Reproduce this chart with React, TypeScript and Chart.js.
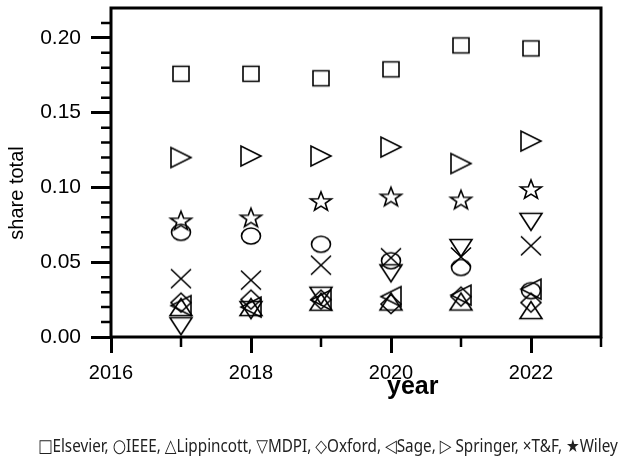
import React, { useEffect, useRef } from 'react';
import { Chart, registerables } from 'chart.js';

Chart.register(...registerables);

const years = [2017, 2018, 2019, 2020, 2021, 2022];
const elsevier = [0.176, 0.176, 0.173, 0.179, 0.195, 0.193];
const ieee = [0.070, 0.0675, 0.062, 0.051, 0.0465, 0.031];
const lippincott = [0.020, 0.020, 0.0236, 0.0237, 0.0237, 0.018];
const mdpi = [0.0072, 0.018, 0.0276, 0.0426, 0.0595, 0.077];
const oxford = [0.023, 0.025, 0.025, 0.022, 0.027, 0.023];
const sage = [0.021, 0.020, 0.0248, 0.027, 0.028, 0.032];
const springer = [0.120, 0.121, 0.121, 0.127, 0.116, 0.131];
const tandf = [0.039, 0.038, 0.048, 0.053, 0.0535, 0.061];
const wiley = [0.078, 0.080, 0.091, 0.094, 0.092, 0.099];

const xTicks = [2016, 2018, 2020, 2022];
const xMinorTicks = [2017, 2019, 2021, 2023];
const yTicks = [0, 0.05, 0.1, 0.15, 0.2];
const yMinorTicks = [0.01, 0.02, 0.03, 0.04, 0.06, 0.07, 0.08, 0.09, 0.11, 0.12, 0.13, 0.14, 0.16, 0.17, 0.18, 0.19, 0.21];

const legendText = '□Elsevier, ○IEEE, △Lippincott, ▽MDPI, ◇Oxford, ◁Sage, ▷ Springer, ×T&F, ★Wiley';

const FONT = '"Liberation Sans", Arial, sans-serif';
const LEGEND_WIDTH = 580;

function makeMarker(kind: string): HTMLCanvasElement {
  const W = 28, H = 28;
  const c = document.createElement('canvas');
  c.width = W; c.height = H;
  const ctx = c.getContext('2d')!;
  ctx.strokeStyle = '#000';
  ctx.lineWidth = 1.6;
  const cx = W / 2, cy = H / 2;
  ctx.beginPath();
  switch (kind) {
    case 'square':
      ctx.rect(cx - 8, cy - 7.5, 16, 15); break;
    case 'circle':
      ctx.ellipse(cx, cy, 9.5, 8, 0, 0, Math.PI * 2); break;
    case 'up':
      ctx.moveTo(cx, cy - 8.5); ctx.lineTo(cx + 11, cy + 8.5); ctx.lineTo(cx - 11, cy + 8.5); ctx.closePath(); break;
    case 'down':
      ctx.moveTo(cx - 11, cy - 8.5); ctx.lineTo(cx + 11, cy - 8.5); ctx.lineTo(cx, cy + 8.5); ctx.closePath(); break;
    case 'left':
      ctx.moveTo(cx - 10, cy); ctx.lineTo(cx + 10, cy - 10); ctx.lineTo(cx + 10, cy + 10); ctx.closePath(); break;
    case 'right':
      ctx.moveTo(cx + 10, cy); ctx.lineTo(cx - 10, cy - 10); ctx.lineTo(cx - 10, cy + 10); ctx.closePath(); break;
    case 'diamond':
      ctx.moveTo(cx, cy - 9.5); ctx.lineTo(cx + 10, cy); ctx.lineTo(cx, cy + 9.5); ctx.lineTo(cx - 10, cy); ctx.closePath(); break;
    case 'x':
      ctx.moveTo(cx - 10, cy - 9.5); ctx.lineTo(cx + 10, cy + 9.5);
      ctx.moveTo(cx + 10, cy - 9.5); ctx.lineTo(cx - 10, cy + 9.5); break;
    case 'star': {
      const R = 10, r = 4.1, sx = 1.1;
      for (let i = 0; i < 10; i++) {
        const rad = -Math.PI / 2 + (i * Math.PI) / 5;
        const rr = i % 2 === 0 ? R : r;
        const px = cx + Math.cos(rad) * rr * sx;
        const py = cy + 1 + Math.sin(rad) * rr;
        if (i === 0) ctx.moveTo(px, py); else ctx.lineTo(px, py);
      }
      ctx.closePath();
      break;
    }
  }
  ctx.stroke();
  return c;
}

const framePlugin = {
  id: 'frameAndTitles',
  afterDraw(chart: any) {
    const { ctx, chartArea: a, scales } = chart;
    const xs = scales.x, ys = scales.y;
    ctx.save();
    ctx.strokeStyle = '#000';
    ctx.lineWidth = 3;
    ctx.strokeRect(a.left, a.top, a.right - a.left, a.bottom - a.top);
    ctx.lineWidth = 2.5;
    ctx.beginPath();
    for (const v of xMinorTicks) {
      const px = xs.getPixelForValue(v);
      ctx.moveTo(px, a.bottom); ctx.lineTo(px, a.bottom + 10);
    }
    for (const v of yMinorTicks) {
      const py = ys.getPixelForValue(v);
      ctx.moveTo(a.left, py); ctx.lineTo(a.left - 10, py);
    }
    ctx.stroke();
    ctx.fillStyle = '#000';
    ctx.font = 'bold 25px ' + FONT;
    ctx.textAlign = 'center';
    ctx.textBaseline = 'alphabetic';
    ctx.fillText('year', xs.getPixelForValue(2020.31), a.bottom + 57);
    ctx.translate(23, ys.getPixelForValue(0.0963));
    ctx.rotate(-Math.PI / 2);
    ctx.font = '20px ' + FONT;
    ctx.fillText('share total', 0, 0);
    ctx.restore();
  },
};

export default function App() {
  const ref = useRef<HTMLCanvasElement | null>(null);
  const legendRef = useRef<HTMLDivElement | null>(null);
  useEffect(() => {
    if (legendRef.current) {
      const el = legendRef.current;
      const w = el.scrollWidth;
      if (w > 0) el.style.transform = `scaleX(${LEGEND_WIDTH / w})`;
    }
    if (!ref.current) return;
    const mk = (label: string, vals: number[], kind: string) => ({
      label,
      data: years.map((y, i) => ({ x: y, y: vals[i] })),
      pointStyle: makeMarker(kind),
      pointRadius: 10,
      pointHoverRadius: 10,
      showLine: false,
    });
    const chart = new Chart(ref.current, {
      type: 'scatter',
      data: {
        datasets: [
          mk('Elsevier', elsevier, 'square'),
          mk('IEEE', ieee, 'circle'),
          mk('Lippincott', lippincott, 'up'),
          mk('MDPI', mdpi, 'down'),
          mk('Oxford', oxford, 'diamond'),
          mk('Sage', sage, 'left'),
          mk('Springer', springer, 'right'),
          mk('T&F', tandf, 'x'),
          mk('Wiley', wiley, 'star'),
        ] as any,
      },
      options: {
        animation: false,
        responsive: true,
        maintainAspectRatio: false,
        layout: { autoPadding: false, padding: { top: 8, right: 23, left: 0, bottom: 0 } },
        plugins: { legend: { display: false }, tooltip: { enabled: false } },
        scales: {
          x: {
            type: 'linear',
            min: 2016,
            max: 2023,
            afterBuildTicks: (s: any) => { s.ticks = xTicks.map((v) => ({ value: v })); },
            afterFit: (s: any) => { s.height = 128; s.paddingLeft = 0; s.paddingRight = 0; },
            grid: { drawOnChartArea: false, drawTicks: true, tickLength: 16, tickWidth: 3, tickColor: '#000', color: '#000' },
            border: { display: false },
            ticks: { color: '#000', font: { family: FONT, size: 20 }, padding: 8, maxRotation: 0, autoSkip: false, callback: (v: any) => String(v) },
          },
          y: {
            type: 'linear',
            min: 0,
            max: 0.22,
            afterBuildTicks: (s: any) => { s.ticks = yTicks.map((v) => ({ value: v })); },
            afterFit: (s: any) => { s.width = 111; s.paddingTop = 0; s.paddingBottom = 0; },
            grid: { drawOnChartArea: false, drawTicks: true, tickLength: 20, tickWidth: 3, tickColor: '#000', color: '#000' },
            border: { display: false },
            ticks: { color: '#000', font: { family: FONT, size: 21 }, padding: 10, autoSkip: false, callback: (v: any) => Number(v).toFixed(2) },
          },
        },
      },
      plugins: [framePlugin],
    });
    return () => chart.destroy();
  }, []);

  return (
    <div style={{ position: 'absolute', left: 0, top: 0, width: 624, height: 465, background: '#fff', overflow: 'hidden' }}>
      <canvas ref={ref} />
      <div
        ref={legendRef}
        style={{
          position: 'absolute',
          left: 38,
          top: 433,
          whiteSpace: 'nowrap',
          display: 'inline-block',
          transformOrigin: '0 0',
          fontFamily: '"Noto Sans", "DejaVu Sans", sans-serif',
          fontSize: 18,
          lineHeight: '24px',
          color: '#222',
        }}
      >
        {legendText}
      </div>
    </div>
  );
}
